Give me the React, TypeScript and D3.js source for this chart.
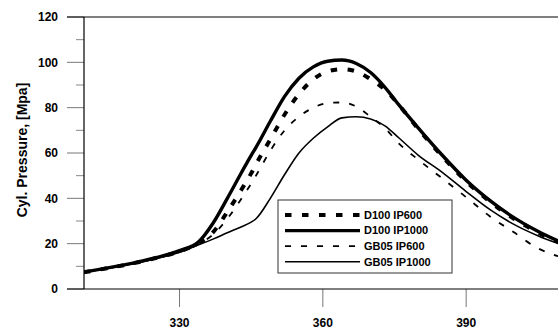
import React from 'react';
import * as d3 from 'd3';

// crank angle (deg) and cylinder pressure (MPa)
const crankAngle = [310, 315, 320, 325, 330, 334, 337, 340, 343, 345, 346, 349, 352, 355, 358, 361, 364, 367, 370, 373, 376, 380, 385, 390, 395, 400, 405, 410];
const d100Ip600 = [7.4, 9.2, 11.2, 13.6, 16.6, 20.2, 25, 34, 44, 51, 55, 66, 77, 86, 92.5, 96, 97, 96, 92.5, 88, 81, 70.5, 58.5, 47.5, 38.5, 31, 25, 20];
const d100Ip1000 = [7.5, 9.3, 11.3, 13.8, 16.9, 20.8, 29, 40, 51.5, 59, 62.5, 74, 85, 93, 98, 100.5, 101, 99.5, 95.5, 89, 81, 71, 59, 48, 39, 31.5, 25.5, 20.5];
const gb05Ip600 = [7.4, 9.1, 11.0, 13.4, 16.3, 19.8, 24, 31, 40, 46.5, 50, 61, 70, 76, 80, 82, 82.3, 80.5, 76, 71, 64, 57, 48.8, 40.5, 32, 25, 18, 14];
const gb05Ip1000 = [7.4, 9.1, 11.0, 13.4, 16.2, 19.5, 22, 24.8, 27.5, 29.5, 31, 40, 50.5, 60, 66.5, 71.5, 75.5, 76, 75, 72, 66.5, 59, 51.5, 43, 35, 28.5, 23.5, 19.5];

const seriesNames = ['D100 IP600', 'D100 IP1000', 'GB05 IP600', 'GB05 IP1000'];
const yTicks = [0, 20, 40, 60, 80, 100, 120];
const yMinorTicks = [10, 30, 50, 70, 90, 110];
const xTicks = [330, 360, 390];

const W = 558;
const H = 331;
const FONT = 'Arial, "Liberation Sans", sans-serif';

export default function App() {
  const x = d3.scaleLinear().domain([310, 410]).range([84, 561.7]);
  const y = d3.scaleLinear().domain([0, 120]).range([289, 17]);

  const series = [
    { name: seriesNames[0], values: d100Ip600, width: 4, dash: '6.5,10.5' },
    { name: seriesNames[1], values: d100Ip1000, width: 3.4, dash: null },
    { name: seriesNames[2], values: gb05Ip600, width: 1.8, dash: '6,10' },
    { name: seriesNames[3], values: gb05Ip1000, width: 1.6, dash: null },
  ];

  const line = d3.line<number>()
    .x((_, i) => x(crankAngle[i]))
    .y(d => y(d))
    .curve(d3.curveMonotoneX);

  const x0 = x.range()[0];
  const yBottom = y(0);
  const yTop = y(120);

  // legend
  const lgX = 278, lgY = 200, lgW = 174, lgH = 73;
  const rowY = (i: number) => lgY + 15 + i * 15.6;

  return (
    <svg width={W} height={H} style={{ position: 'absolute', left: 0, top: 0, background: '#fff' }}
      fontFamily={FONT}>
      <defs>
        <clipPath id="plot">
          <rect x={x0} y={yTop - 5} width={W - x0} height={yBottom - yTop + 5} />
        </clipPath>
      </defs>
      <rect width={W} height={H} fill="#fff" />

      {/* y ticks */}
      {yMinorTicks.map(t => (
        <line key={'m' + t} x1={x0 - 8} x2={x0} y1={y(t)} y2={y(t)} stroke="#888" strokeWidth={1} />
      ))}
      {yTicks.map(t => (
        <g key={'y' + t}>
          <line x1={x0 - 17} x2={x0} y1={y(t)} y2={y(t)} stroke="#777" strokeWidth={1} />
          <text x={58} y={y(t)} dy="0.35em" textAnchor="end" fontSize={12} fontWeight="bold">{t}</text>
        </g>
      ))}

      {/* x ticks */}
      {xTicks.map(t => (
        <g key={'x' + t}>
          <line x1={x(t)} x2={x(t)} y1={yBottom} y2={yBottom + 18} stroke="#777" strokeWidth={1} />
          <text x={x(t)} y={323} dy="0.35em" textAnchor="middle" fontSize={12} fontWeight="bold">{t}</text>
        </g>
      ))}

      {/* frame */}
      <line x1={67} x2={W} y1={yTop} y2={yTop} stroke="#000" strokeWidth={1.2} />
      <line x1={67} x2={W} y1={yBottom} y2={yBottom} stroke="#000" strokeWidth={1.2} />
      <line x1={x0} x2={x0} y1={yTop} y2={yBottom} stroke="#000" strokeWidth={1.2} />

      <text transform={`translate(22,150) rotate(-90)`} textAnchor="middle" dy="0.35em"
        fontSize={14} fontWeight="bold">Cyl. Pressure, [Mpa]</text>

      {/* curves */}
      <g clipPath="url(#plot)">
        {series.map(s => (
          <path key={s.name} d={line(s.values) || ''} fill="none" stroke="#000"
            strokeWidth={s.width} strokeDasharray={s.dash || undefined} strokeLinecap="butt" />
        ))}
      </g>

      {/* legend */}
      <rect x={lgX} y={lgY} width={lgW} height={lgH} fill="#fff" stroke="#333" strokeWidth={1} />
      {series.map((s, i) => (
        <g key={'lg' + s.name}>
          <line x1={285} x2={360} y1={rowY(i)} y2={rowY(i)} stroke="#000" strokeWidth={s.width}
            strokeDasharray={s.dash || undefined} />
          <text x={364} y={rowY(i)} dy="0.35em" fontSize={11} fontWeight="bold">{s.name}</text>
        </g>
      ))}
    </svg>
  );
}
